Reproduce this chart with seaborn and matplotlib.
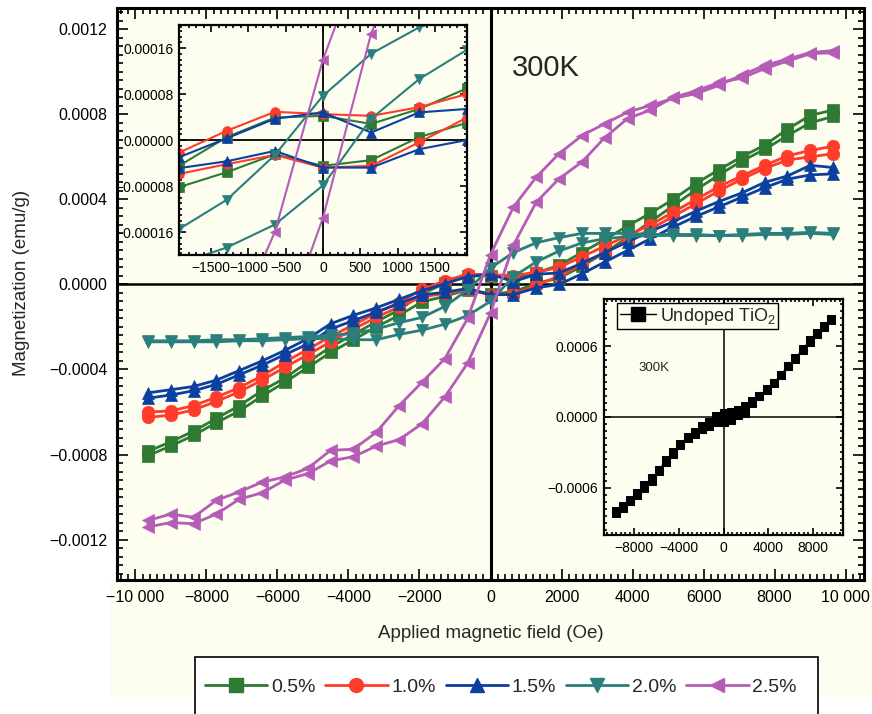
import pandas as pd
import seaborn as sns
import matplotlib.pyplot as plt
from matplotlib.lines import Line2D
from matplotlib.patches import Rectangle
from matplotlib.ticker import MultipleLocator, FuncFormatter

sns.set_style("ticks")
plt.rcParams['font.family'] = ['Liberation Sans', 'DejaVu Sans']
plt.rcParams['mathtext.default'] = 'regular'

# applied field grid (Oe), same for both sweep directions
field = [-9650, -9005, -8365, -7720, -7075, -6435, -5790, -5145, -4505, -3860,
         -3215, -2575, -1930, -1290, -645, 0, 645, 1290, 1930, 2575,
         3215, 3860, 4505, 5145, 5790, 6435, 7075, 7720, 8365, 9005, 9650]

# magnetization in 1e-4 emu/g, listed from -H to +H
# "down" = sweep from +H to -H (upper branch), "up" = sweep from -H to +H
m05_down = [-7.85, -7.4, -6.9, -6.3, -5.7, -5.0, -4.4, -3.65, -2.95, -2.35,
            -1.75, -1.2, -0.45, 0.05, 0.39, 0.42, 0.28, 0.54, 0.9, 1.5,
            2.1, 2.75, 3.35, 4.0, 4.75, 5.4, 6.0, 6.55, 7.3, 7.95, 8.2]
m05_up = [-8.05, -7.6, -7.1, -6.5, -5.95, -5.25, -4.6, -3.9, -3.2, -2.6,
          -2.0, -1.45, -0.82, -0.56, -0.25, -0.45, -0.35, 0.05, 0.3, 0.85,
          1.5, 2.2, 2.95, 3.7, 4.45, 5.15, 5.8, 6.35, 7.0, 7.6, 7.9]

m10_down = [-6.0, -5.95, -5.7, -5.3, -4.85, -4.3, -3.65, -3.05, -2.45, -1.9,
            -1.35, -0.85, -0.22, 0.16, 0.49, 0.45, 0.42, 0.57, 0.8, 1.3,
            1.8, 2.3, 2.8, 3.4, 4.0, 4.6, 5.1, 5.6, 6.05, 6.3, 6.5]
m10_up = [-6.25, -6.15, -5.9, -5.5, -5.05, -4.5, -3.9, -3.3, -2.7, -2.1,
          -1.55, -1.05, -0.59, -0.42, -0.26, -0.48, -0.45, -0.04, 0.39, 0.95,
          1.5, 2.05, 2.6, 3.2, 3.8, 4.4, 4.95, 5.45, 5.85, 6.0, 6.15]

m15_down = [-5.1, -4.95, -4.8, -4.5, -4.05, -3.6, -3.1, -2.55, -1.85, -1.45,
            -1.1, -0.7, -0.3, 0.03, 0.37, 0.48, 0.13, 0.48, 0.54, 1.0,
            1.5, 2.0, 2.5, 2.95, 3.45, 3.9, 4.3, 4.8, 5.1, 5.6, 5.5]
m15_up = [-5.35, -5.2, -5.0, -4.7, -4.25, -3.8, -3.3, -2.8, -2.1, -1.7,
          -1.3, -0.9, -0.49, -0.37, -0.19, -0.48, -0.48, -0.16, 0.0, 0.5,
          1.05, 1.6, 2.15, 2.7, 3.2, 3.65, 4.1, 4.55, 4.95, 5.15, 5.2]

m20_down = [-2.65, -2.65, -2.65, -2.6, -2.6, -2.55, -2.5, -2.45, -2.4, -2.3,
            -2.1, -1.8, -1.55, -1.04, -0.26, 0.77, 1.5, 1.96, 2.2, 2.4,
            2.4, 2.4, 2.35, 2.35, 2.35, 2.3, 2.35, 2.4, 2.4, 2.45, 2.4]
m20_up = [-2.7, -2.7, -2.7, -2.7, -2.65, -2.65, -2.6, -2.55, -2.55, -2.6,
          -2.6, -2.35, -2.15, -1.87, -1.47, -0.79, 0.37, 1.06, 1.57, 1.95,
          2.15, 2.25, 2.3, 2.3, 2.3, 2.3, 2.3, 2.35, 2.35, 2.4, 2.35]

m25_down = [-11.1, -10.8, -10.95, -10.15, -9.75, -9.3, -9.05, -8.65, -7.8, -7.75,
            -6.95, -5.7, -4.6, -3.5, -1.6, 1.4, 3.64, 5.05, 6.15, 7.0,
            7.56, 8.1, 8.42, 8.75, 8.97, 9.36, 9.85, 10.3, 10.6, 10.9, 11.0]
m25_up = [-11.4, -11.2, -11.25, -10.8, -10.1, -9.8, -9.2, -8.9, -8.3, -8.1,
          -7.6, -7.3, -6.55, -5.3, -3.7, -1.35, 1.85, 3.87, 4.97, 5.76,
          6.9, 7.8, 8.2, 8.8, 9.1, 9.5, 9.7, 10.15, 10.5, 10.85, 10.9]

# undoped TiO2 (inset)
und_down = [-8.0, -7.5, -7.0, -6.4, -5.75, -5.2, -4.5, -3.65, -3.0, -2.3,
            -1.7, -1.25, -0.8, -0.45, 0.1, 0.3, 0.4, 0.6, 0.95, 1.35,
            1.8, 2.3, 2.85, 3.55, 4.3, 4.9, 5.75, 6.5, 7.1, 7.65, 8.3]
und_up = [-8.1, -7.7, -7.15, -6.6, -6.0, -5.4, -4.6, -3.8, -3.1, -2.4,
          -1.8, -1.4, -1.0, -0.75, -0.4, -0.4, -0.25, 0.17, 0.37, 1.2,
          1.75, 2.35, 2.9, 3.6, 4.35, 5.0, 5.7, 6.35, 7.05, 7.7, 8.2]

labels = ['0.5%', '1.0%', '1.5%', '2.0%', '2.5%']
colors = ['#2e7a32', '#ff3b2b', '#0b3fa0', '#2a7f7c', '#b55cb7']
markers = ['s', 'o', '^', 'v', '<']
branches = [(m05_down, m05_up), (m10_down, m10_up), (m15_down, m15_up),
            (m20_down, m20_up), (m25_down, m25_up)]


def loop_frame(down, up):
    # full loop: +H -> -H, then -H -> +H
    return pd.DataFrame({'H': field[::-1] + field,
                         'M': [v * 1e-4 for v in down[::-1] + up]})


def draw_loops(ax, ms, lw):
    for lab, c, mk, (dn, upb) in zip(labels, colors, markers, branches):
        sns.lineplot(data=loop_frame(dn, upb), x='H', y='M', sort=False,
                     estimator=None, color=c, marker=mk, markersize=ms,
                     markeredgecolor=c, markeredgewidth=0.5, linewidth=lw,
                     ax=ax, legend=False)
    ax.set_xlabel('')
    ax.set_ylabel('')


def fmt_field(v, pos):
    n = int(round(v))
    s = f"{abs(n):,}".replace(',', ' ') if abs(n) >= 10000 else str(abs(n))
    return ('\u2212' if n < 0 else '') + s


def fmt_dec(nd):
    def f(v, pos):
        if abs(v) < 1e-12:
            v = 0.0
        return f"{v:.{nd}f}".replace('-', '\u2212')
    return FuncFormatter(f)


def style_axes(ax, spine_w, maj_len, min_len, lsize):
    for s in ax.spines.values():
        s.set_linewidth(spine_w)
        s.set_color('k')
    ax.tick_params(which='both', direction='in', top=True, right=True,
                   width=1.2, colors='k')
    ax.tick_params(which='major', length=maj_len, labelsize=lsize, pad=4)
    ax.tick_params(which='minor', length=min_len)


cream = '#fdfdf0'
fig = plt.figure(figsize=(8.72, 7.14), dpi=100)
fig.patch.set_facecolor('white')
fig.add_artist(Rectangle((110 / 872, 1 - 697 / 714), 762 / 872, 117 / 714,
                         transform=fig.transFigure, facecolor=cream,
                         edgecolor='none', zorder=-5))

# main panel
ax = fig.add_axes([117 / 872, 1 - 580 / 714, 747 / 872, 572 / 714])
ax.set_facecolor(cream)
ax.axhline(0, color='k', lw=1.8, zorder=1)
ax.axvline(0, color='k', lw=2.2, zorder=1)
draw_loops(ax, ms=9, lw=2.0)
ax.set_xlim(-10520, 10520)
ax.set_ylim(-0.00139, 0.0013)
ax.xaxis.set_major_locator(MultipleLocator(2000))
ax.xaxis.set_minor_locator(MultipleLocator(200))
ax.yaxis.set_major_locator(MultipleLocator(0.0004))
ax.yaxis.set_minor_locator(MultipleLocator(0.00004))
ax.xaxis.set_major_formatter(FuncFormatter(fmt_field))
ax.yaxis.set_major_formatter(fmt_dec(4))
style_axes(ax, 2.2, 8, 4, 11.5)
ax.tick_params(which='major', pad=7)

fig.text(22 / 872, 1 - 283 / 714, 'Magnetization (emu/g)', rotation=90,
         ha='center', va='center', fontsize=13.5)
fig.text(491 / 872, 1 - 634 / 714, 'Applied magnetic field (Oe)',
         ha='center', va='center', fontsize=13.5)
fig.text(546 / 872, 1 - 68 / 714, '300K', ha='center', va='center', fontsize=21)

# upper-left inset: low-field zoom
ax1 = fig.add_axes([179 / 872, 1 - 255 / 714, 288 / 872, 230 / 714])
ax1.set_zorder(3)
ax1.set_facecolor(cream)
ax1.axhline(0, color='k', lw=1.3, zorder=1)
ax1.axvline(0, color='k', lw=1.3, zorder=1)
draw_loops(ax1, ms=7, lw=1.5)
ax1.set_xlim(-1930, 1930)
ax1.set_ylim(-0.0002, 0.0002)
ax1.xaxis.set_major_locator(MultipleLocator(500))
ax1.xaxis.set_minor_locator(MultipleLocator(100))
ax1.yaxis.set_major_locator(MultipleLocator(0.00008))
ax1.yaxis.set_minor_locator(MultipleLocator(0.00001))
ax1.xaxis.set_major_formatter(FuncFormatter(fmt_field))
ax1.yaxis.set_major_formatter(fmt_dec(5))
style_axes(ax1, 1.6, 5, 2.5, 10)

# lower-right inset: undoped TiO2
ax2 = fig.add_axes([604 / 872, 1 - 535 / 714, 239 / 872, 236 / 714])
ax2.set_zorder(3)
ax2.set_facecolor(cream)
ax2.axhline(0, color='k', lw=1.1, zorder=1)
ax2.axvline(0, color='k', lw=1.1, zorder=1)
sns.lineplot(data=loop_frame(und_down, und_up), x='H', y='M', sort=False,
             estimator=None, color='k', marker='s', markersize=5.5,
             markeredgecolor='k', linewidth=0.7, ax=ax2, legend=False)
ax2.set_xlabel('')
ax2.set_ylabel('')
ax2.set_xlim(-10700, 10700)
ax2.set_ylim(-0.001, 0.001)
ax2.xaxis.set_major_locator(MultipleLocator(4000))
ax2.xaxis.set_minor_locator(MultipleLocator(400))
ax2.yaxis.set_major_locator(MultipleLocator(0.0006))
ax2.yaxis.set_minor_locator(MultipleLocator(0.00006))
ax2.xaxis.set_major_formatter(FuncFormatter(fmt_field))
ax2.yaxis.set_major_formatter(fmt_dec(4))
style_axes(ax2, 1.6, 5, 2.5, 10)
und_handle = Line2D([], [], color='k', marker='s', markersize=10, lw=1)
leg2 = ax2.legend([und_handle], ['Undoped TiO$_2$'], loc='upper left',
                  bbox_to_anchor=(0.055, 0.983), fontsize=13, frameon=True,
                  fancybox=False, edgecolor='k', facecolor=cream,
                  framealpha=1, borderaxespad=0.0, handlelength=2.0,
                  handletextpad=0.2, borderpad=0.15)
leg2.get_frame().set_linewidth(1.0)
ax2.text(0.146, 0.708, '300K', transform=ax2.transAxes, fontsize=9.5,
         ha='left', va='center')

# bottom legend
fig.add_artist(Rectangle((195 / 872, -0.02), 623 / 872, 57 / 714 + 0.02,
                         transform=fig.transFigure, facecolor='white',
                         edgecolor='k', lw=1.2, zorder=5))
handles = [Line2D([], [], color=c, marker=m, markersize=10, lw=2,
                  markeredgecolor=c) for c, m in zip(colors, markers)]
leg = fig.legend(handles, labels, loc='center',
                 bbox_to_anchor=(501 / 872, 1 - 687 / 714), ncol=5,
                 frameon=False, fontsize=14, handlelength=3.2,
                 handletextpad=0.2, columnspacing=0.5)
leg.set_zorder(6)

fig.savefig('out.png', dpi=100)
